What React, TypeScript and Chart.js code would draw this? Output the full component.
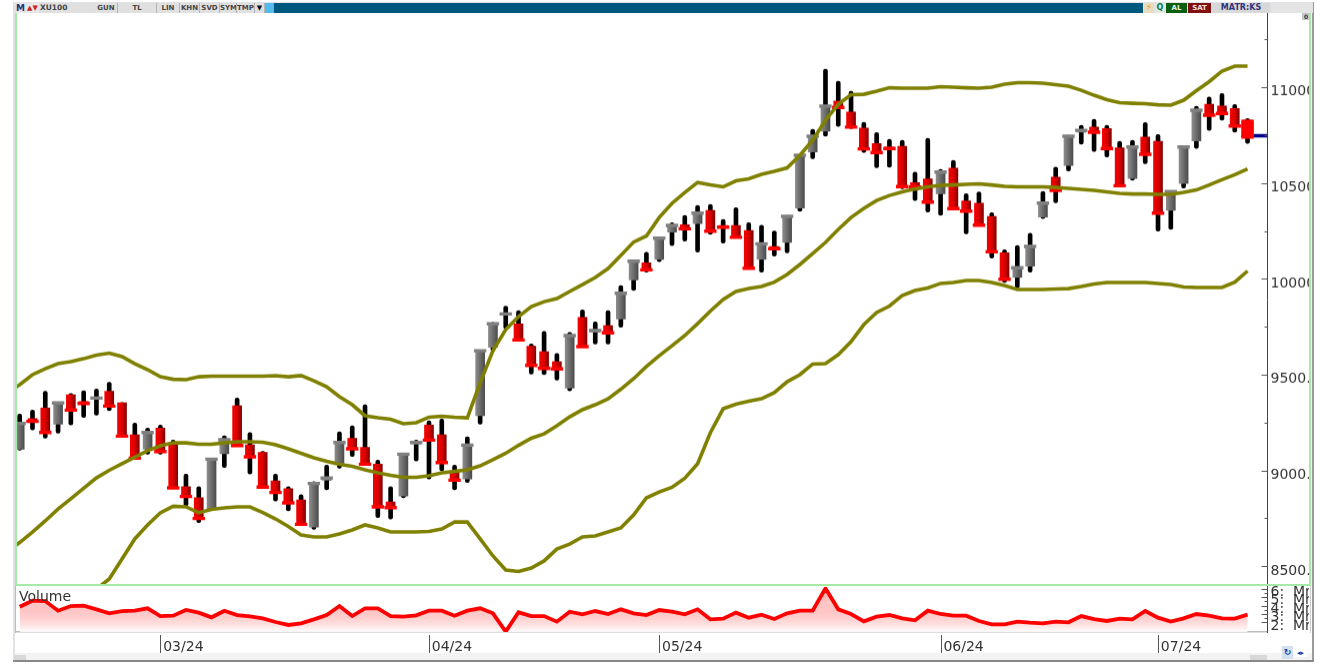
import React, { useEffect, useRef } from "react";
import { Chart, registerables } from "chart.js";

Chart.register(...registerables);

// ---- Daily bars, index 0..96 ----
const highs = [9294,9315,9413,9355,9402,9416,9425,9460,9355,9247,9221,9237,9158,8981,8916,9064,9181,9378,9198,9099,8981,8916,8873,8941,9028,9202,9233,9343,9054,8916,9088,9158,9259,9268,9028,9176,9625,9773,9857,9834,9660,9726,9611,9721,9838,9775,9834,9965,10095,10139,10214,10293,10331,10383,10388,10310,10371,10293,10280,10249,10331,10650,10780,11094,11031,10979,10817,10763,10728,10723,10557,10733,10571,10618,10444,10453,10345,10152,10174,10238,10456,10583,10749,10801,10833,10801,10718,10723,10816,10753,10458,10693,10901,10949,10967,10910,10836];
const opens = [9111,9271,9326,9242,9395,9360,9371,9413,9353,9186,9111,9221,9138,8916,8858,8798,9088,9338,9134,9094,8946,8905,8846,8705,8949,9038,9167,9120,9033,8836,8866,9138,9237,9186,8986,8955,9286,9643,9812,9765,9648,9620,9568,9430,9799,9723,9756,9791,9995,10084,10101,10244,10282,10288,10357,10279,10279,10252,10101,10169,10191,10369,10662,10770,10928,10871,10787,10706,10688,10692,10502,10521,10444,10578,10406,10395,10326,10136,10008,10066,10322,10531,10592,10765,10792,10784,10683,10523,10740,10718,10357,10497,10719,10911,10902,10889,10828];
const closes = [9245,9256,9198,9352,9315,9350,9378,9336,9179,9064,9198,9099,8909,8864,8749,9059,9160,9130,9071,8913,8885,8831,8719,8932,8960,9146,9113,9033,8810,8806,9085,9146,9158,9041,8949,9132,9625,9765,9817,9681,9548,9533,9530,9704,9646,9730,9718,9925,10092,10047,10212,10279,10261,10343,10249,10270,10217,10055,10183,10157,10326,10645,10744,10901,10894,10792,10678,10659,10680,10481,10479,10400,10557,10366,10353,10280,10141,9998,10058,10169,10395,10462,10744,10775,10765,10680,10486,10688,10650,10343,10456,10688,10880,10854,10863,10798,10740];
const lows = [9106,9211,9169,9195,9238,9277,9289,9312,9176,9059,9085,9085,8905,8815,8728,8793,9015,9127,8981,8909,8841,8789,8716,8693,8899,9012,9073,9032,8754,8746,8858,9050,8955,8998,8899,8937,9242,9622,9739,9680,9503,9500,9472,9416,9643,9660,9660,9747,9939,10035,10090,10174,10197,10139,10232,10186,10214,10052,10035,10118,10136,10352,10627,10744,10796,10784,10659,10580,10583,10470,10409,10348,10331,10361,10235,10277,10108,9981,9953,10035,10314,10397,10563,10702,10665,10636,10483,10514,10601,10249,10258,10474,10680,10775,10828,10766,10706];

// ---- Bollinger bands, first entry sits one bar before the first bar ----
const upperBand = [9400,9448,9500,9531,9557,9568,9583,9602,9612,9594,9557,9526,9489,9476,9474,9489,9492,9492,9492,9492,9492,9495,9489,9495,9468,9437,9385,9343,9286,9275,9267,9244,9249,9278,9283,9278,9275,9458,9625,9735,9803,9855,9881,9897,9934,9970,10007,10054,10122,10192,10224,10320,10394,10451,10503,10490,10480,10511,10522,10545,10561,10579,10645,10723,10828,10911,10961,10963,10979,10997,10995,10995,10995,11003,11000,10997,10995,11000,11016,11024,11024,11021,11013,11005,10984,10958,10935,10919,10916,10914,10908,10906,10932,10982,11029,11084,11110,11110];
const middleBand = [8575,8624,8679,8737,8799,8852,8907,8961,9001,9035,9069,9103,9129,9144,9144,9137,9137,9144,9150,9150,9147,9134,9113,9090,9066,9048,9032,9022,9003,8988,8975,8964,8964,8972,8988,8995,9003,9024,9056,9090,9131,9168,9191,9233,9280,9317,9343,9374,9424,9479,9542,9599,9651,9704,9766,9832,9892,9934,9949,9960,9983,10023,10075,10132,10190,10258,10320,10368,10409,10435,10454,10469,10480,10488,10490,10493,10496,10490,10483,10480,10480,10480,10477,10472,10467,10462,10454,10446,10443,10443,10441,10441,10451,10464,10490,10517,10543,10574];
const lowerBand = [7895,7963,8031,8099,8172,8240,8319,8381,8434,8538,8643,8716,8779,8813,8810,8779,8797,8805,8810,8810,8781,8747,8708,8664,8653,8653,8669,8690,8716,8700,8679,8679,8679,8682,8695,8731,8731,8643,8554,8481,8473,8491,8528,8590,8616,8653,8658,8679,8700,8768,8857,8888,8912,8959,9035,9197,9322,9346,9361,9374,9406,9463,9500,9555,9557,9604,9672,9761,9824,9858,9913,9939,9952,9976,9981,9991,9991,9981,9965,9944,9944,9944,9947,9949,9960,9973,9981,9981,9981,9981,9976,9970,9957,9955,9955,9955,9983,10041];

// ---- Volume in billions, index 0..96 ----
const volume = [3.86,4.57,4.53,3.39,3.94,3.98,3.55,3.08,3.35,3.39,3.67,2.76,2.80,3.47,3.16,2.61,3.39,2.88,2.73,2.49,2.06,1.71,1.90,2.37,2.88,3.94,2.76,3.67,3.67,2.76,2.69,2.84,3.39,3.39,2.80,3.39,3.67,3.08,0.92,3.20,2.76,2.76,2.10,3.27,2.96,3.35,3.00,3.55,3.08,2.88,3.47,3.27,2.96,3.55,2.37,2.45,3.16,2.57,2.92,2.41,3.08,3.39,3.39,6.02,3.55,3.00,2.14,2.69,2.88,2.49,2.25,3.39,3.00,2.80,2.80,2.18,1.78,1.78,2.10,1.98,1.90,2.10,2.02,2.76,2.41,2.18,2.45,2.37,3.35,2.57,2.10,2.49,3.00,2.80,2.49,2.45,2.92];

const lastPrice = 10747;
const priceTicks = [8500,8750,9000,9250,9500,9750,10000,10250,10500,10750,11000,11250];
const labelledPrices = [8500,9000,9500,10000,10500,11000];
const volumeTicks = [2,2.5,3,3.5,4,4.5,5,5.5,6];
const monthIndexes = [11,32,50,72,89];
const monthLabels = ["03/24","04/24","05/24","06/24","07/24"];

const FONT = "'DejaVu Sans', sans-serif";
const X_MIN = -0.289;
const X_MAX = 97.56;

const fitY = (s: any) => {
  s.width = 41.5;
  s.paddingTop = 0;
  s.paddingBottom = 0;
};

const sideTicks = {
  id: "sideTicks",
  afterDraw(chart: any) {
    const { ctx, chartArea } = chart;
    const s = chart.scales.y;
    ctx.save();
    ctx.strokeStyle = "#555";
    ctx.lineWidth = 1;
    s.ticks.forEach((t: any) => {
      const p = Math.round(s.getPixelForValue(t.value)) + 0.5;
      const len = t.label !== "" ? 6 : 3;
      ctx.beginPath();
      ctx.moveTo(chartArea.right - len, p);
      ctx.lineTo(chartArea.right, p);
      ctx.stroke();
    });
    ctx.restore();
  },
};

const monthTicks = {
  id: "monthTicks",
  afterDraw(chart: any) {
    const { ctx, chartArea } = chart;
    const s = chart.scales.x;
    ctx.save();
    ctx.strokeStyle = "#555";
    ctx.lineWidth = 1;
    s.ticks.forEach((t: any) => {
      const p = Math.round(s.getPixelForValue(t.value)) + 0.5;
      ctx.beginPath();
      ctx.moveTo(p, chartArea.bottom + 3);
      ctx.lineTo(p, chartArea.bottom + 21);
      ctx.stroke();
    });
    ctx.restore();
  },
};

function bodyGradient(c: any, half: number) {
  const i = c.dataIndex;
  if (typeof i !== "number") return "#808080";
  const up = closes[i] > opens[i];
  const x = c.chart.scales.x.getPixelForValue(i);
  if (!Number.isFinite(x)) return up ? "#707070" : "#d00000";
  const g = c.chart.ctx.createLinearGradient(x - half, 0, x + half, 0);
  if (up) {
    g.addColorStop(0, "#8c8c8c");
    g.addColorStop(1, "#4c4c4c");
  } else {
    g.addColorStop(0, "#f40000");
    g.addColorStop(0.5, "#dc0000");
    g.addColorStop(1, "#820000");
  }
  return g;
}

function Box(p: { l: number; t: number; w: number; h: number; bg?: string; c?: string; b?: boolean; children?: any; fs?: number; extra?: any }) {
  return (
    <div
      style={{
        position: "absolute",
        left: p.l,
        top: p.t,
        width: p.w,
        height: p.h,
        background: p.bg,
        color: p.c || "#444",
        fontFamily: FONT,
        fontWeight: p.b === false ? 400 : 700,
        fontSize: p.fs || 7,
        lineHeight: p.h + "px",
        textAlign: "center",
        overflow: "hidden",
        whiteSpace: "nowrap",
        ...p.extra,
      }}
    >
      {p.children}
    </div>
  );
}

export default function App() {
  const mainRef = useRef<HTMLCanvasElement>(null);
  const volRef = useRef<HTMLCanvasElement>(null);

  useEffect(() => {
    const idx = highs.map((_, i) => i);
    const isUp = (i: number) => closes[i] > opens[i];
    const last = idx.length - 1;
    const line = (label: string, data: number[]) => ({
      type: "line" as const,
      label,
      data: data.map((v, i) => ({ x: i - 1, y: v })),
      borderColor: "#808000",
      borderWidth: 3.6,
      pointRadius: 0,
      tension: 0,
      order: 0,
    });

    const main = new Chart(mainRef.current!, {
      type: "bar",
      data: {
        datasets: [
          line("Upper", upperBand),
          line("Middle", middleBand),
          line("Lower", lowerBand),
          {
            type: "line",
            label: "Last",
            data: [{ x: 96.5, y: lastPrice }, { x: X_MAX, y: lastPrice }],
            borderColor: "#000088",
            borderWidth: 3.4,
            pointRadius: 0,
            order: 0.5,
          },
          {
            type: "scatter",
            label: "Close",
            data: idx.map((i) => ({ x: i, y: closes[i] })),
            pointStyle: "line",
            pointRadius: 6.2,
            pointBorderWidth: 3.4,
            pointBorderColor: idx.map((i) => (isUp(i) ? "#808080" : "#ff0000")),
            borderColor: idx.map((i) => (isUp(i) ? "#808080" : "#ff0000")),
            showLine: false,
            order: 1,
          },
          {
            label: "Last body",
            data: [{ x: last, y: [opens[last], closes[last]] }],
            barThickness: 12,
            backgroundColor: "#ff0000",
            grouped: false,
            order: 1.5,
          },
          {
            label: "Body",
            data: idx.map((i) => ({ x: i, y: [opens[i], closes[i]] })),
            barThickness: 9,
            backgroundColor: (c: any) => bodyGradient(c, 4.5),
            grouped: false,
            order: 2,
          },
          {
            label: "Wick",
            data: idx.map((i) => ({ x: i, y: [lows[i], highs[i]] })),
            barThickness: 4,
            backgroundColor: "#000000",
            borderRadius: 2,
            borderSkipped: false,
            grouped: false,
            order: 3,
          },
        ] as any,
      },
      options: {
        animation: false,
        responsive: false,
        maintainAspectRatio: false,
        layout: { padding: { left: 16, top: 13, right: 0, bottom: 0 } },
        plugins: { legend: { display: false }, tooltip: { enabled: false }, title: { display: false } },
        scales: {
          x: { type: "linear", min: X_MIN, max: X_MAX, display: false, offset: false, grid: { display: false } },
          y: {
            type: "linear",
            position: "right",
            min: 8397,
            max: 11387,
            afterFit: fitY,
            afterBuildTicks: (s: any) => { s.ticks = priceTicks.map((value) => ({ value })); },
            grid: { display: false, drawTicks: false },
            border: { display: true, color: "#444", width: 1 },
            ticks: {
              autoSkip: false,
              padding: 3,
              labelOffset: 4.7,
              color: "#333",
              font: { family: FONT, size: 14 },
              callback: (v: any) => (labelledPrices.includes(Number(v)) ? Number(v).toFixed(2) : ""),
            },
          },
        },
      } as any,
      plugins: [sideTicks],
    });

    // The layout keeps a little room under the last tick label: grow the canvas so the plot reaches the panel edge.
    const slack = 585 - main.chartArea.bottom;
    if (slack > 0.01) main.resize(1309, 585 + slack);

    const vol = new Chart(volRef.current!, {
      type: "line",
      data: {
        datasets: [
          {
            label: "Volume",
            data: idx.map((i) => ({ x: i, y: volume[i] })),
            borderColor: "#ff0000",
            borderWidth: 3.8,
            pointRadius: 0,
            tension: 0,
            fill: "start",
            backgroundColor: (c: any) => {
              const a = c.chart.chartArea;
              if (!a || !Number.isFinite(a.top) || !Number.isFinite(a.bottom)) return "rgba(255,0,0,0.2)";
              const g = c.chart.ctx.createLinearGradient(0, a.top, 0, a.bottom);
              g.addColorStop(0, "rgba(255,70,70,0.6)");
              g.addColorStop(0.35, "rgba(255,100,100,0.36)");
              g.addColorStop(1, "rgba(255,255,255,0.9)");
              return g;
            },
          },
        ] as any,
      },
      options: {
        animation: false,
        responsive: false,
        layout: { padding: { left: 16, top: 2, right: 0, bottom: 0 } },
        plugins: { legend: { display: false }, tooltip: { enabled: false } },
        scales: {
          x: {
            type: "linear",
            min: X_MIN,
            max: X_MAX,
            afterFit: (s: any) => { s.height = 29; s.paddingLeft = 0; s.paddingRight = 0; },
            afterBuildTicks: (s: any) => { s.ticks = monthIndexes.map((value) => ({ value })); },
            grid: { display: false, drawTicks: false },
            border: { display: true, color: "#bbbbbb", width: 1.5 },
            ticks: {
              autoSkip: false,
              maxRotation: 0,
              padding: 7,
              labelOffset: 23,
              color: "#333",
              font: { family: FONT, size: 14 },
              callback: (v: any) => monthLabels[monthIndexes.indexOf(Number(v))] ?? "",
            },
          },
          y: {
            type: "linear",
            position: "right",
            min: 0.88,
            max: 6.18,
            afterFit: fitY,
            afterBuildTicks: (s: any) => { s.ticks = volumeTicks.map((value) => ({ value })); },
            grid: { display: false, drawTicks: false },
            border: { display: true, color: "#444", width: 1 },
            ticks: {
              autoSkip: false,
              padding: 3,
              labelOffset: 3.5,
              color: "#333",
              font: { family: FONT, size: 14 },
              callback: (v: any) => (Number.isInteger(Number(v)) ? `${v}:  Mr` : ""),
            },
          },
        },
      } as any,
      plugins: [sideTicks, monthTicks],
    });

    return () => {
      main.destroy();
      vol.destroy();
    };
  }, []);

  const green = "#a4eaa4";
  return (
    <div style={{ position: "fixed", left: 0, top: 0, width: 1326, height: 665, background: "#fff", overflow: "hidden", filter: "blur(0.45px)" }}>
      <Box l={15} t={653} w={1297} h={7} bg="#f3f3f3" />
      <canvas ref={mainRef} width={1309} height={585} style={{ position: "absolute", left: 0, top: 0 }} />
      <canvas ref={volRef} width={1309} height={76} style={{ position: "absolute", left: 0, top: 585 }} />

      {/* mask clipping the volume axis labels at the panel bottom */}
      <Box l={1268} t={632} w={42} h={10} bg="#fff" />
      <Box l={19} t={589} w={54} h={15} fs={14} b={false} c="#333" extra={{ textAlign: "left" }}>Volume</Box>

      {/* frame */}
      <Box l={13} t={2} w={0} h={659} extra={{ borderLeft: "2px solid #dfe3e8" }} />
      <Box l={15} t={13} w={2} h={572} bg={green} />
      <Box l={1309} t={13} w={2} h={572} bg={green} />
      <Box l={15} t={584} w={1296} h={2} bg={green} />
      <Box l={15} t={586} w={1} h={47} bg="#bbb" />
      <Box l={1310} t={586} w={1} h={47} bg="#ccc" />
      <Box l={1312} t={2} w={2} h={660} bg="#9a9a9a" />
      <Box l={13} t={660} w={1301} h={2} bg="#888" />

      {/* top toolbar */}
      <Box l={14} t={2} w={1299} h={11} bg="#dfe3e8" />
      <Box l={39} t={3} w={226} h={10} bg="#b4b4b4" />
      <Box l={16} t={3} w={9} h={10} fs={9} c="#223377" bg="#e8e8e8">M</Box>
      <Box l={26} t={3} w={13} h={10} fs={7} c="#cc2222" bg="#e8e8e8">▲▼</Box>
      <Box l={39} t={3} w={55} h={10} bg="#e0e0e0" extra={{ textAlign: "left", paddingLeft: 1, fontSize: 7.5 }}>XU100</Box>
      <Box l={95} t={3} w={22} h={10} bg="#e0e0e0">GUN</Box>
      <Box l={118} t={3} w={38} h={10} bg="#e0e0e0">TL</Box>
      <Box l={157} t={3} w={22} h={10} bg="#e0e0e0">LIN</Box>
      <Box l={180} t={3} w={19} h={10} bg="#e0e0e0">KHN</Box>
      <Box l={200} t={3} w={19} h={10} bg="#e0e0e0">SVD</Box>
      <Box l={220} t={3} w={16} h={10} bg="#e0e0e0">SYM</Box>
      <Box l={237} t={3} w={17} h={10} bg="#e0e0e0">TMP</Box>
      <Box l={255} t={3} w={9} h={10} bg="#e0e0e0" c="#112" fs={7}>▼</Box>
      <Box l={265} t={3} w={9} h={10} bg="#55bbee" />
      <Box l={274} t={3} w={869} h={10} bg="#00587f" />
      <Box l={1144} t={3} w={10} h={10} bg="#e8dcc0" c="#e09000" fs={8}>⚡</Box>
      <Box l={1155} t={3} w={10} h={10} bg="#e0e8e0" c="#007a55" fs={8}>Q</Box>
      <Box l={1166} t={3} w={21} h={10} bg="#0a6010" c="#e8f0e8" fs={7}>AL</Box>
      <Box l={1188} t={3} w={23} h={10} bg="#801010" c="#f4e0e0" fs={7}>SAT</Box>
      <Box l={1212} t={3} w={58} h={10} bg="#d8d8d8" c="#33337a" fs={8}>MATR:KS</Box>
      <Box l={1272} t={3} w={9} h={10} bg="#e4e4e4" />
      <Box l={1282} t={3} w={9} h={10} bg="#e4e4e4" />
      <Box l={1292} t={3} w={9} h={10} bg="#e4e4e4" />
      <Box l={1302} t={3} w={9} h={10} bg="#e4e4e4" />
      <Box l={1302} t={13} w={8} h={7} bg="#c8c8c8" c="#333" fs={6}>0</Box>

      {/* bottom controls */}
      <Box l={14} t={655} w={12} h={5} bg="#d8d8d8" />
      <Box l={1250} t={655} w={17} h={5} bg="#d8d8d8" />
      <Box l={1282} t={646} w={11} h={13} bg="#d4e0f0" c="#1144aa" fs={9}>↻</Box>
      <Box l={1294} t={649} w={13} h={8} bg="#fff" c="#1133aa" fs={7}>◂▸</Box>
    </div>
  );
}
